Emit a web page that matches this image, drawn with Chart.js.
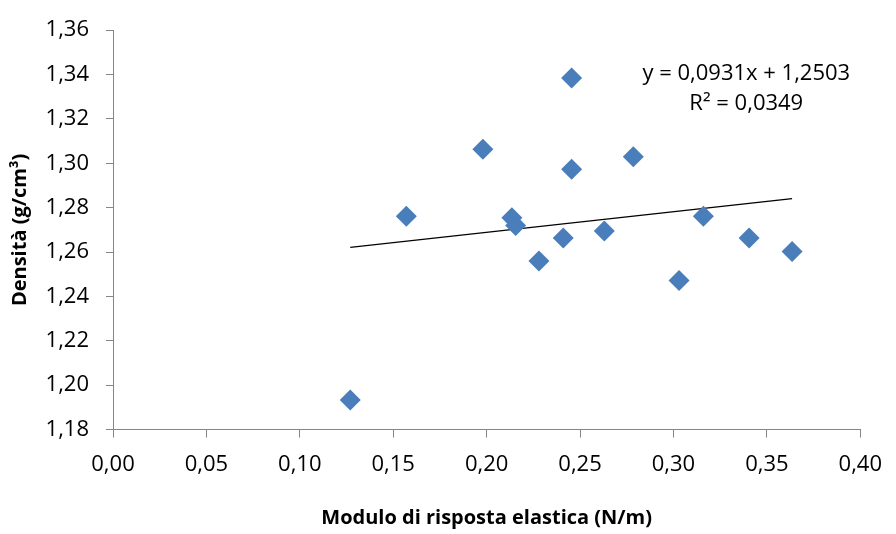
<!DOCTYPE html>
<html>
<head>
<meta charset="utf-8">
<script src="https://cdn.jsdelivr.net/npm/chart.js@4"></script>
<style>
  body { margin: 0; background: #fff; }
  #wrap { width: 896px; height: 534px; }
</style>
</head>
<body>
<div id="wrap"><canvas id="myChart"></canvas></div>
<script>
// valori
const modulo = [0.127, 0.157, 0.198, 0.2135, 0.2155, 0.228, 0.241, 0.2455, 0.2455, 0.263, 0.2785, 0.303, 0.316, 0.3405, 0.3635];
const densita = [1.1933, 1.2762, 1.3063, 1.2755, 1.2720, 1.2560, 1.2663, 1.3385, 1.2973, 1.2695, 1.3030, 1.2472, 1.2762, 1.2663, 1.2603];
const trendX = [0.127, 0.3635];
const trendY = [1.2621, 1.2841];
const equazione = 'y = 0,0931x + 1,2503';
const r2 = 'R² = 0,0349';

const fmt = v => Number(v).toFixed(2).replace('.', ',');
const FONT = '"Open Sans", Lato, sans-serif';
const AXIS = '#868686';

const labelPlugin = {
    id: 'trendLabel',
    afterDraw(chart) {
        const ctx = chart.ctx;
        const area = chart.chartArea;
        ctx.save();
        ctx.fillStyle = '#000';
        ctx.font = '22px ' + FONT;
        ctx.textAlign = 'center';
        ctx.textBaseline = 'middle';
        ctx.fillText(equazione, area.right - 114, area.top + 44);
        ctx.fillText(r2, area.right - 114, area.top + 74);
        ctx.restore();
    }
};

document.addEventListener('DOMContentLoaded', () => {
    const ctx = document.getElementById('myChart').getContext('2d');

    const points = modulo.map((x, i) => ({ x, y: densita[i] }));
    const trend = trendX.map((x, i) => ({ x, y: trendY[i] }));

    new Chart(ctx, {
        type: 'scatter',
        data: {
            datasets: [{
                label: 'Densità',
                data: points,
                pointStyle: 'rectRot',
                pointRadius: 10.5,
                pointHoverRadius: 10.5,
                backgroundColor: '#4a7ebb',
                borderColor: '#4a7ebb',
                borderWidth: 0,
                order: 1
            }, {
                label: 'Lineare',
                data: trend,
                showLine: true,
                pointRadius: 0,
                borderColor: '#000',
                borderWidth: 1.2,
                fill: false,
                order: 2
            }]
        },
        options: {
            responsive: true,
            maintainAspectRatio: false,
            animation: false,
            layout: { padding: { top: 24, right: 28, left: 8, bottom: 0 } },
            plugins: {
                legend: { display: false },
                tooltip: { enabled: false }
            },
            scales: {
                x: {
                    type: 'linear',
                    position: 'bottom',
                    min: 0,
                    max: 0.4,
                    ticks: {
                        stepSize: 0.05,
                        callback: fmt,
                        color: '#000',
                        padding: 14,
                        font: { family: FONT, size: 22 }
                    },
                    grid: { drawOnChartArea: false, color: AXIS, tickLength: 8 },
                    border: { color: AXIS },
                    title: {
                        display: true,
                        text: 'Modulo di risposta elastica (N/m)',
                        color: '#000',
                        font: { family: FONT, size: 20, weight: 'bold' },
                        padding: { top: 14, bottom: 4 }
                    }
                },
                y: {
                    type: 'linear',
                    position: 'left',
                    min: 1.18,
                    max: 1.36,
                    ticks: {
                        stepSize: 0.02,
                        callback: fmt,
                        color: '#000',
                        padding: 17,
                        font: { family: FONT, size: 22 }
                    },
                    grid: { drawOnChartArea: false, color: AXIS, tickLength: 7 },
                    border: { color: AXIS },
                    title: {
                        display: true,
                        text: 'Densità (g/cm³)',
                        color: '#000',
                        font: { family: FONT, size: 20, weight: 'bold' },
                        padding: { top: 0, bottom: 4 }
                    },
                    afterFit(scale) { scale.width = 105; }
                }
            }
        },
        plugins: [labelPlugin]
    });
});
</script>
</body>
</html>
